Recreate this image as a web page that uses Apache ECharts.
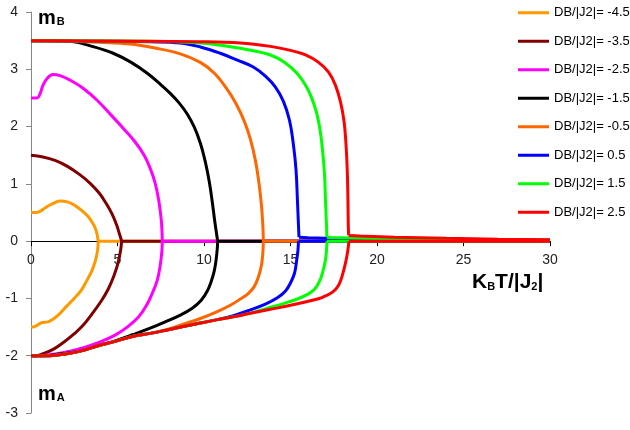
<!DOCTYPE html>
<html>
<head>
<meta charset="utf-8">
<script src="https://cdn.jsdelivr.net/npm/echarts@6/dist/echarts.min.js"></script>
<style>
  html, body { margin: 0; padding: 0; background: #fff; }
  #chart { width: 630px; height: 430px; }
</style>
</head>
<body>
<div id="chart"></div>
<script>
// Sublattice magnetizations mB (upper branch) and mA (lower branch)
// versus reduced temperature KBT/|J2|, one pair of curves per DB/|J2|.

const dValues = ['-4.5', '-3.5', '-2.5', '-1.5', '-0.5', '0.5', '1.5', '2.5'];
const colors = ['#FF9900', '#800000', '#FF00FF', '#000000', '#FF6600', '#0000FF', '#00FF00', '#FF0000'];
const xTicks = [0, 5, 10, 15, 20, 25, 30];
const yTicks = [-3, -2, -1, 0, 1, 2, 3, 4];

// DB/|J2| = -4.5
const mB_m45 = [[0,0.5],[0.29,0.5],[0.52,0.52],[0.81,0.58],[1.22,0.65],[1.68,0.7],[2.14,0.68],[2.55,0.62],[2.95,0.53],[3.3,0.43],[3.53,0.33],[3.71,0.23],[3.82,0.12],[3.88,0]];
const mA_m45 = [[3.88,0],[3.85,-0.16],[3.73,-0.33],[3.53,-0.51],[3.24,-0.68],[2.9,-0.86],[2.49,-1.0],[2.08,-1.13],[1.68,-1.26],[1.33,-1.35],[0.98,-1.41],[0.64,-1.42],[0.35,-1.47],[0.12,-1.5],[0,-1.5]];
const tail_m45 = [[3.88,0],[30,0]];

// DB/|J2| = -3.5
const mB_m35 = [[0,1.5],[0.69,1.47],[1.39,1.41],[2.08,1.31],[2.78,1.17],[3.42,1.01],[3.94,0.84],[4.34,0.66],[4.69,0.47],[4.95,0.28],[5.12,0.12],[5.24,0]];
const mA_m35 = [[5.24,0],[5.18,-0.16],[5.04,-0.37],[4.81,-0.59],[4.46,-0.84],[4.05,-1.05],[3.53,-1.27],[3.01,-1.47],[2.49,-1.62],[1.91,-1.76],[1.33,-1.88],[0.75,-1.96],[0.29,-2],[0,-2]];
const tail_m35 = [[5.24,0],[30,0]];

// DB/|J2| = -2.5
const mB_m25 = [[0,2.5],[0.35,2.5],[0.52,2.57],[0.69,2.72],[0.93,2.84],[1.27,2.91],[1.68,2.89],[2.26,2.81],[3.01,2.67],[3.82,2.46],[4.63,2.2],[5.39,1.95],[6.02,1.73],[6.54,1.5],[6.89,1.27],[7.18,1.01],[7.38,0.72],[7.53,0.37],[7.59,0]];
const mA_m25 = [[7.59,0],[7.56,-0.19],[7.47,-0.42],[7.3,-0.68],[7.01,-0.91],[6.66,-1.13],[6.2,-1.33],[5.56,-1.5],[4.86,-1.64],[4.0,-1.76],[3.13,-1.85],[2.26,-1.92],[1.39,-1.97],[0.52,-2],[0,-2]];
const tail_m25 = [[7.59,0],[30,0]];

// DB/|J2| = -1.5
const mB_m15 = [[0,3.5],[1.2,3.5],[2.26,3.49],[3.53,3.4],[4.75,3.28],[5.79,3.12],[6.72,2.93],[7.47,2.74],[8.05,2.58],[8.57,2.41],[9.03,2.22],[9.44,1.99],[9.79,1.71],[10.08,1.38],[10.31,1.03],[10.48,0.68],[10.63,0.33],[10.74,0.1],[10.79,0]];
const mA_m15 = [[10.79,0],[10.77,-0.12],[10.71,-0.3],[10.6,-0.51],[10.42,-0.7],[10.19,-0.87],[9.84,-1.03],[9.32,-1.17],[8.63,-1.29],[7.76,-1.41],[6.89,-1.52],[5.91,-1.63],[4.86,-1.74],[3.82,-1.83],[2.84,-1.92],[1.68,-1.97],[0.81,-2],[0,-2]];
const tail_m15 = [[10.79,0],[30,0]];

// DB/|J2| = -0.5
const mB_m05 = [[0,3.5],[2.26,3.49],[4.0,3.47],[5.73,3.44],[7.18,3.37],[8.63,3.27],[9.79,3.12],[10.6,2.93],[11.29,2.67],[11.87,2.39],[12.33,2.09],[12.68,1.78],[12.97,1.41],[13.17,1.03],[13.32,0.63],[13.4,0.28],[13.43,0]];
const mA_m05 = [[13.43,0],[13.4,-0.21],[13.32,-0.42],[13.14,-0.63],[12.91,-0.79],[12.57,-0.91],[12.1,-1.01],[11.52,-1.12],[10.77,-1.23],[9.79,-1.35],[8.8,-1.45],[7.87,-1.54],[6.89,-1.61],[5.91,-1.66],[4.86,-1.75],[3.82,-1.83],[2.84,-1.92],[1.97,-1.97],[1.1,-2],[0,-2]];
const tail_m05 = [[13.43,0],[30,0]];

// DB/|J2| = 0.5
const mB_p05 = [[0,3.5],[4.0,3.49],[6.89,3.48],[8.63,3.46],[9.79,3.39],[10.94,3.28],[11.93,3.16],[12.85,3.04],[13.55,2.88],[14.13,2.69],[14.59,2.44],[14.94,2.11],[15.17,1.68],[15.32,1.24],[15.4,0.72],[15.46,0.28],[15.49,0.07]];
const mA_p05 = [[15.46,0],[15.43,-0.16],[15.34,-0.37],[15.23,-0.56],[15.0,-0.73],[14.71,-0.87],[14.24,-0.99],[13.55,-1.1],[12.68,-1.2],[11.7,-1.3],[10.77,-1.37],[9.79,-1.43],[8.8,-1.49],[7.87,-1.55],[6.89,-1.61],[5.91,-1.66],[4.86,-1.75],[3.82,-1.83],[2.84,-1.92],[1.97,-1.97],[1.1,-2],[0,-2]];
const tail_p05 = [[15.49,0.07],[16,0.06],[17.5,0.045],[20,0.03],[25,0.02],[30,0.015]];

// DB/|J2| = 1.5
const mB_p15 = [[0,3.5],[6.89,3.49],[9.79,3.46],[10.94,3.42],[12.39,3.35],[13.84,3.25],[14.71,3.11],[15.4,2.92],[15.87,2.72],[16.21,2.51],[16.5,2.25],[16.71,1.94],[16.85,1.59],[16.97,1.15],[17.02,0.72],[17.08,0.28],[17.1,0.07]];
const mA_p15 = [[17.11,0],[17.08,-0.16],[17.03,-0.31],[16.88,-0.52],[16.68,-0.7],[16.39,-0.84],[15.98,-0.93],[15.4,-1.01],[14.59,-1.09],[13.67,-1.17],[12.68,-1.26],[11.7,-1.32],[10.77,-1.37],[9.79,-1.43],[8.8,-1.49],[7.87,-1.55],[6.89,-1.61],[5.91,-1.66],[4.86,-1.75],[3.82,-1.83],[2.84,-1.92],[1.97,-1.97],[1.1,-2],[0,-2]];
const tail_p15 = [[17.1,0.07],[17.3,0.065],[18.5,0.055],[20,0.045],[25,0.03],[30,0.02]];

// DB/|J2| = 2.5
const mB_p25 = [[0,3.5],[9.79,3.48],[12.1,3.46],[13.84,3.4],[15.0,3.33],[15.87,3.25],[16.62,3.12],[17.2,2.95],[17.6,2.72],[17.89,2.43],[18.1,2.08],[18.21,1.68],[18.28,1.24],[18.32,0.72],[18.34,0.28],[18.36,0.1]];
const mA_p25 = [[18.38,0],[18.3,-0.19],[18.18,-0.38],[18.0,-0.59],[17.78,-0.77],[17.43,-0.89],[16.85,-0.98],[16.15,-1.04],[15.0,-1.12],[13.84,-1.19],[12.68,-1.26],[11.7,-1.32],[10.77,-1.37],[9.79,-1.43],[8.8,-1.49],[7.87,-1.55],[6.89,-1.61],[5.91,-1.66],[4.86,-1.75],[3.82,-1.83],[2.84,-1.92],[1.97,-1.97],[1.1,-2],[0,-2]];
const tail_p25 = [[18.36,0.1],[19,0.09],[21,0.07],[24,0.05],[27,0.035],[30,0.025]];

const upperBranches = [mB_m45, mB_m35, mB_m25, mB_m15, mB_m05, mB_p05, mB_p15, mB_p25];
const lowerBranches = [mA_m45, mA_m35, mA_m25, mA_m15, mA_m05, mA_p05, mA_p15, mA_p25];
const tails = [tail_m45, tail_m35, tail_m25, tail_m15, tail_m05, tail_p05, tail_p15, tail_p25];

const names = dValues.map(d => 'DB/|J2|= ' + d);
const series = [];
dValues.forEach((d, i) => {
  const common = {
    type: 'line',
    name: names[i],
    symbol: 'none',
    color: colors[i],
    lineStyle: { color: colors[i], width: 3 },
    emphasis: { disabled: true },
    animation: false
  };
  series.push(Object.assign({}, common, { smooth: 0.4, data: upperBranches[i] }));
  series.push(Object.assign({}, common, { smooth: 0.4, data: lowerBranches[i] }));
  series.push(Object.assign({}, common, { smooth: false, data: tails[i] }));
  // lower branch of field-favoured curves rests on zero above Tc
  if (tails[i][0][1] !== 0) {
    series.push(Object.assign({}, common, { smooth: false, data: [lowerBranches[i][0], [30, 0]] }));
  }
});

// grid geometry; the x axis is carried on the m = 0 line
const gridTop = 12, gridBottom = 17, chartH = 430;
const plotH = chartH - gridTop - gridBottom;
const yMin = yTicks[0], yMax = yTicks[yTicks.length - 1];
const zeroOffset = -plotH * (0 - yMin) / (yMax - yMin);

const chart = echarts.init(document.getElementById('chart'), null, { renderer: 'canvas' });
chart.setOption({
  backgroundColor: '#ffffff',
  animation: false,
  grid: { left: 31, right: 80, top: gridTop, bottom: gridBottom, containLabel: false },
  xAxis: {
    type: 'value',
    min: xTicks[0], max: xTicks[xTicks.length - 1], interval: 5,
    position: 'bottom',
    offset: zeroOffset,
    axisLine: { onZero: false, lineStyle: { color: '#000000', width: 1 } },
    axisTick: { show: true, length: 5, lineStyle: { color: '#000000' } },
    axisLabel: { margin: 12, fontSize: 14, color: '#222', fontFamily: 'Liberation Sans, Arial, sans-serif' },
    splitLine: { show: false }
  },
  yAxis: {
    type: 'value',
    min: yMin, max: yMax, interval: 1,
    axisLine: { show: true, onZero: false, lineStyle: { color: '#868686', width: 1 } },
    axisTick: { show: true, length: 5, lineStyle: { color: '#868686' } },
    axisLabel: { margin: 13, fontSize: 14, color: '#222', fontFamily: 'Liberation Sans, Arial, sans-serif' },
    splitLine: { show: false }
  },
  legend: {
    data: names,
    orient: 'vertical',
    left: 513, top: 0,
    icon: 'rect',
    itemWidth: 31, itemHeight: 3, itemGap: 13,
    textStyle: { fontSize: 13, color: '#000', fontFamily: 'Liberation Sans, Arial, sans-serif', lineHeight: 15.5 },
    selectedMode: false
  },
  graphic: [
    {
      type: 'text', left: 38, top: 8,
      style: {
        text: '{m|m}{s|B}',
        rich: {
          m: { fontSize: 20, fontWeight: 'bold', fontFamily: 'Liberation Sans, Arial, sans-serif', fill: '#000' },
          s: { fontSize: 11, fontWeight: 'bold', fontFamily: 'Liberation Sans, Arial, sans-serif', fill: '#000', padding: [8, 0, 0, 1] }
        }
      }
    },
    {
      type: 'text', left: 38, top: 384,
      style: {
        text: '{m|m}{s|A}',
        rich: {
          m: { fontSize: 20, fontWeight: 'bold', fontFamily: 'Liberation Sans, Arial, sans-serif', fill: '#000' },
          s: { fontSize: 11, fontWeight: 'bold', fontFamily: 'Liberation Sans, Arial, sans-serif', fill: '#000', padding: [8, 0, 0, 1] }
        }
      }
    },
    {
      type: 'text', left: 472, top: 272,
      style: {
        text: '{b|K}{s|B}{b|T/|J}{s|2}{b||}',
        rich: {
          b: { fontSize: 21, fontWeight: 'bold', fontFamily: 'Liberation Sans, Arial, sans-serif', fill: '#000' },
          s: { fontSize: 11, fontWeight: 'bold', fontFamily: 'Liberation Sans, Arial, sans-serif', fill: '#000', padding: [9, 0, 0, 0] }
        }
      }
    }
  ],
  series: series
});
</script>
</body>
</html>
